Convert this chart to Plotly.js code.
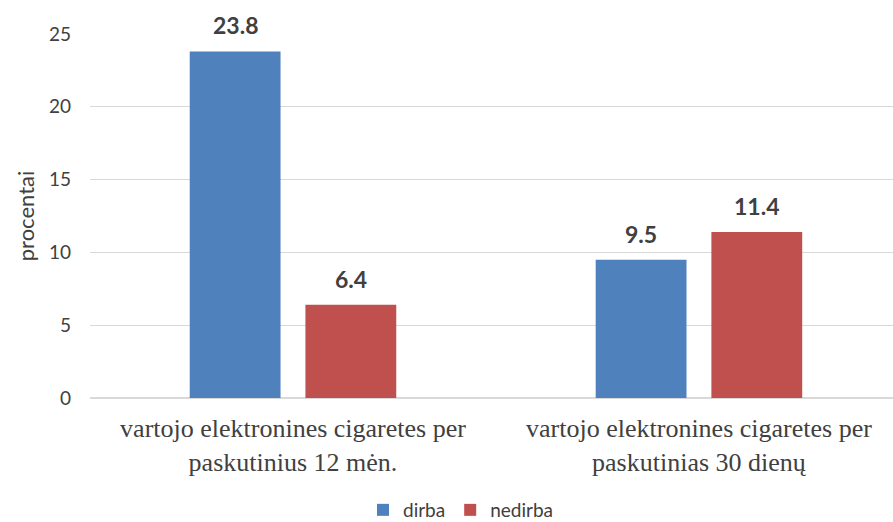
<!DOCTYPE html>
<html>
<head>
<meta charset="utf-8">
<script src="https://cdn.plot.ly/plotly-3.0.1.min.js"></script>
<style>html,body{margin:0;padding:0;background:#fff;}#chart{width:893px;height:522px;}</style>
</head>
<body>
<div id="chart"></div>
<script>
const categories = ["vartojo elektronines cigaretes per<br>paskutinius 12 mėn.", "vartojo elektronines cigaretes per<br>paskutinias 30 dienų"];
const dirba = [23.8, 9.5];
const nedirba = [6.4, 11.4];
const seriesNames = ["dirba", "nedirba"];
const seriesColors = ["#4F81BD", "#C0504D"];
const yTicks = [0, 5, 10, 15, 20, 25];

const bargap = 0.43, bargroupgap = 0.215;
const slot = (1 - bargap) / 2;
const seriesData = [dirba, nedirba];

const traces = seriesData.map((vals, i) => ({
  type: "bar", name: seriesNames[i], x: vals.map((_, k) => k), y: vals,
  marker: {color: seriesColors[i]}, hoverinfo: "none"
}));

const labelFont = {family: "Lato, 'Open Sans', sans-serif", size: 23, color: "#404040"};
const annotations = [];
seriesData.forEach((vals, i) => {
  vals.forEach((v, k) => {
    annotations.push({
      x: k + (i - 0.5) * slot, y: v, xref: "x", yref: "y",
      text: "<b>" + v.toFixed(1) + "</b>", showarrow: false,
      yanchor: "bottom", yshift: 10, font: labelFont
    });
  });
});

const layout = {
  width: 893, height: 522,
  margin: {l: 90, r: 0, t: 34, b: 124},
  paper_bgcolor: "#fff", plot_bgcolor: "#fff",
  barmode: "group", bargap: bargap, bargroupgap: bargroupgap,
  showlegend: true,
  legend: {orientation: "h", x: 0.462, xanchor: "center", xref: "paper", yref: "container", y: 12/522, yanchor: "middle",
    font: {family: "Lato, 'Open Sans', sans-serif", size: 19, color: "#404040"}, itemwidth: 30, tracegroupgap: 0},
  annotations: annotations,
  xaxis: {range: [-0.5, 1.478], tickmode: "array", tickvals: [0, 1], ticktext: categories,
    showgrid: false, zeroline: false, showline: false, ticks: "", automargin: false, ticklabelstandoff: 12,
    tickfont: {family: "'Liberation Serif', 'Times New Roman', serif", size: 26, color: "#404040"}, fixedrange: true},
  yaxis: {range: [0, 25], tickmode: "array", tickvals: yTicks, ticktext: yTicks.map(String), automargin: false,
    showgrid: true, gridcolor: "#D9D9D9", gridwidth: 1.3, zeroline: true, zerolinecolor: "#D9D9D9", zerolinewidth: 1.3,
    showline: false, ticks: "", ticklabelstandoff: 18,
    tickfont: {family: "Lato, 'Open Sans', sans-serif", size: 19, color: "#404040"},
    title: {text: "procentai", font: {family: "Lato, 'Open Sans', sans-serif", size: 22, color: "#404040"}, standoff: 8},
    fixedrange: true},
  font: {family: "Lato, sans-serif", color: "#404040"}
};

Plotly.newPlot("chart", traces, layout, {staticPlot: true, displayModeBar: false});
</script>
</body>
</html>
